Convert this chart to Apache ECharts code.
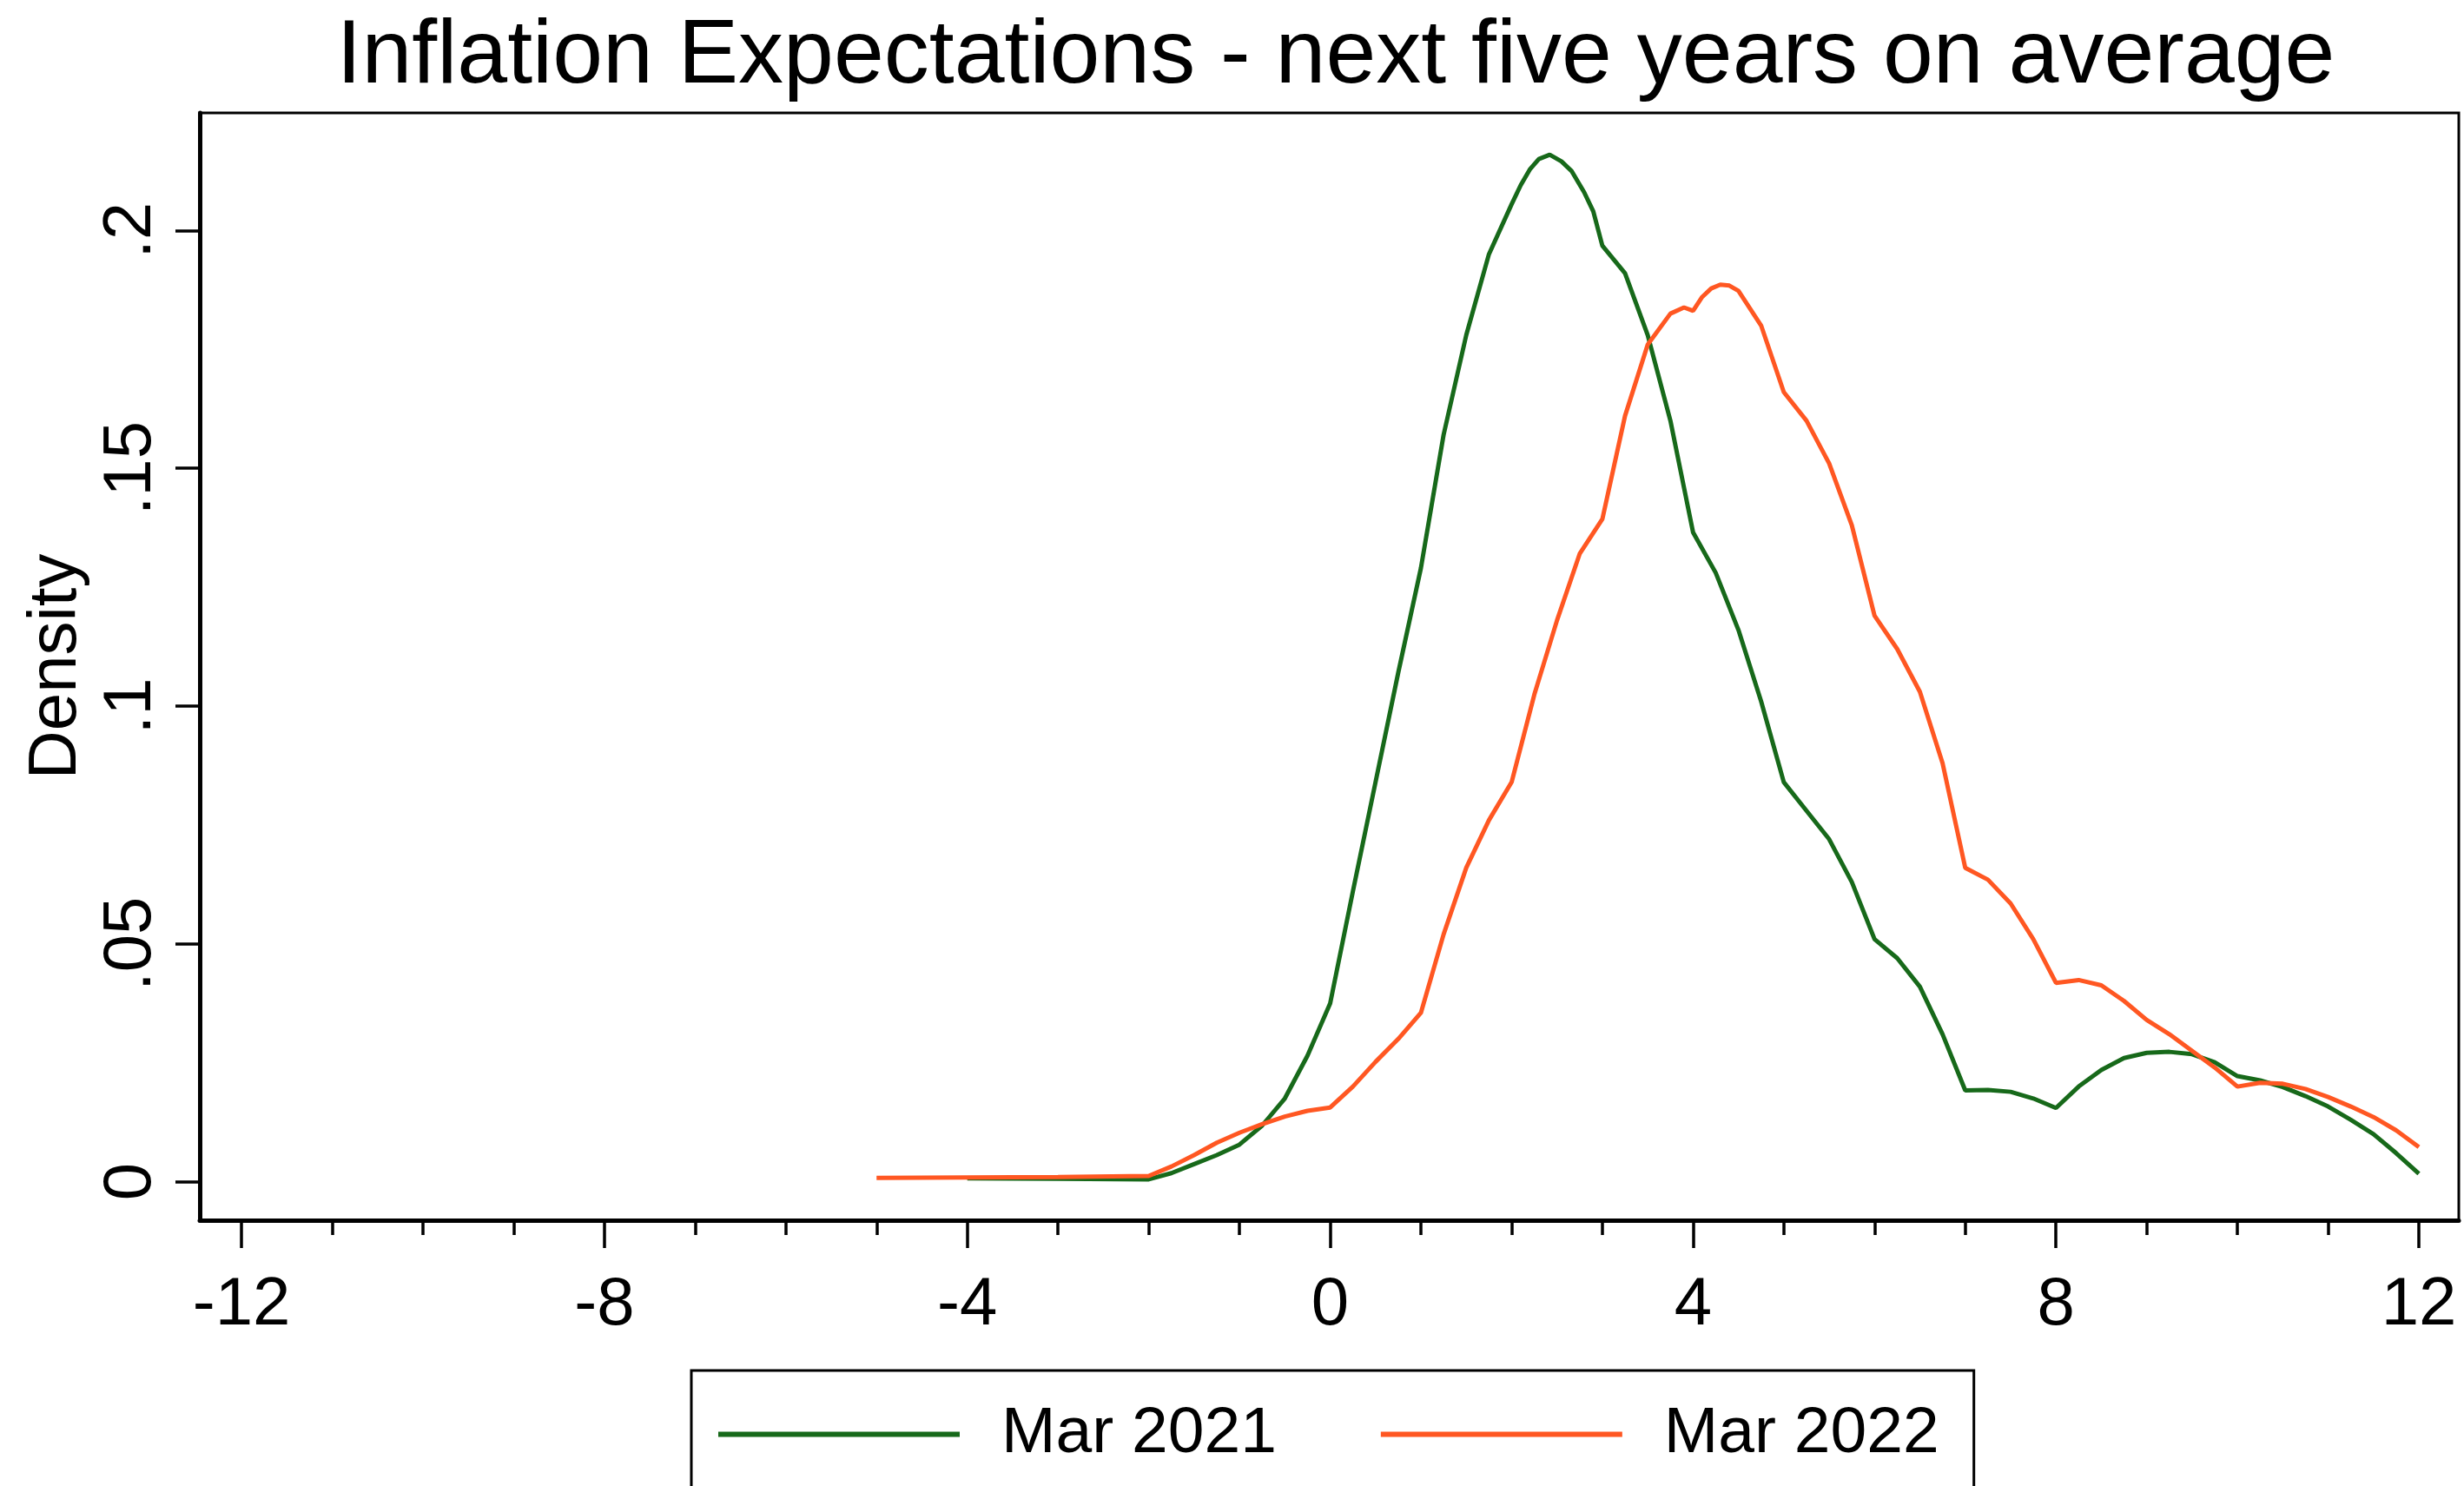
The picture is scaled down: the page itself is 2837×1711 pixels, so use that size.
<!DOCTYPE html>
<html>
<head>
<meta charset="utf-8">
<title>Inflation Expectations - next five years on average</title>
<script src="https://cdn.jsdelivr.net/npm/echarts@6/dist/echarts.min.js"></script>
<style>
  html, body { margin: 0; padding: 0; background: #ffffff; }
  #chart { width: 2837px; height: 1711px; }
</style>
</head>
<body>
<div id="chart"></div>
<script>
// Kernel density of expected average inflation over the next five years (%)
const mar2021X = [-4, -3, -2, -1.75, -1.5, -1.25, -1, -0.75, -0.5, -0.25, 0, 0.25, 0.5, 0.75, 1,
  1.25, 1.5, 1.75, 2, 2.1, 2.2, 2.3, 2.42, 2.55, 2.66, 2.8, 2.9, 3, 3.25, 3.5, 3.75, 4, 4.25, 4.5, 4.75, 5,
  5.25, 5.5, 5.75, 6, 6.25, 6.5, 6.75, 7, 7.25, 7.5, 7.75, 8, 8.25, 8.5, 8.75, 9,
  9.25, 9.5, 9.75, 10, 10.25, 10.5, 10.75, 11, 11.25, 11.5, 11.75, 12];
const mar2021Density = [0.0007, 0.0006, 0.0005, 0.0018, 0.0037, 0.0056, 0.0078, 0.0118, 0.0175, 0.0265, 0.0375, 0.061, 0.084, 0.107, 0.129,
  0.157, 0.178, 0.195, 0.2055, 0.2095, 0.2128, 0.2150, 0.2159, 0.2145, 0.2125, 0.2080, 0.2040, 0.1968, 0.191, 0.178, 0.160, 0.1365, 0.128, 0.116, 0.101, 0.084,
  0.078, 0.072, 0.063, 0.051, 0.047, 0.041, 0.031, 0.0192, 0.0193, 0.0189, 0.0175, 0.0155, 0.020, 0.0235, 0.026, 0.0271,
  0.0273, 0.0268, 0.0251, 0.0222, 0.0213, 0.0199, 0.018, 0.0158, 0.013, 0.0100, 0.006, 0.0017];

const mar2022X = [-5, -4, -3, -2, -1.75, -1.5, -1.25, -1, -0.75, -0.5, -0.25, 0, 0.25, 0.5, 0.75, 1,
  1.25, 1.5, 1.75, 2, 2.25, 2.5, 2.75, 3, 3.25, 3.5, 3.75, 3.9, 4, 4.1, 4.2, 4.3, 4.4, 4.5, 4.75, 5,
  5.25, 5.5, 5.75, 6, 6.25, 6.5, 6.75, 7, 7.25, 7.5, 7.75, 8, 8.25, 8.5, 8.75, 9,
  9.25, 9.5, 9.75, 10, 10.25, 10.5, 10.75, 11, 11.25, 11.5, 11.75, 12];
const mar2022Density = [0.0008, 0.0009, 0.0010, 0.0012, 0.0032, 0.0056, 0.0082, 0.0103, 0.0121, 0.0137, 0.0149, 0.0156, 0.020, 0.0252, 0.030, 0.0355,
  0.052, 0.066, 0.076, 0.084, 0.1024, 0.118, 0.132, 0.1393, 0.161, 0.176, 0.1825, 0.1838, 0.1831, 0.1860, 0.1878, 0.1886, 0.1884, 0.1873, 0.180, 0.166,
  0.160, 0.151, 0.138, 0.119, 0.112, 0.103, 0.088, 0.066, 0.0635, 0.0585, 0.051, 0.0418, 0.0424, 0.0413, 0.038, 0.034,
  0.031, 0.0275, 0.024, 0.020, 0.0208, 0.0206, 0.0195, 0.0178, 0.0158, 0.0136, 0.0108, 0.0073];

const seriesNames = ['Mar 2021', 'Mar 2022'];
const xMajorTicks = [-12, -8, -4, 0, 4, 8, 12];
const xMinorTicks = [-12, -11, -10, -9, -8, -7, -6, -5, -4, -3, -2, -1, 0, 1, 2, 3, 4, 5, 6, 7, 8, 9, 10, 11, 12];
const yTicks = [0, 0.05, 0.1, 0.15, 0.2];
const yTickLabels = ['0', '.05', '.1', '.15', '.2'];

const FONT = "'Liberation Sans', Arial, sans-serif";
const GREEN = '#17691a';
const ORANGE = '#ff5722';

const pairs = (xs, ys) => xs.map((x, i) => [x, ys[i]]);

const chart = echarts.init(document.getElementById('chart'), null, { renderer: 'canvas' });

chart.setOption({
  backgroundColor: '#ffffff',
  animation: false,
  title: {
    text: 'Inflation Expectations - next five years on average',
    left: 1533,
    textAlign: 'center',
    top: 9,
    textStyle: { fontFamily: FONT, fontSize: 104, fontWeight: 'normal', color: '#000000' }
  },
  grid: {
    left: 230, right: 6, top: 130, bottom: 306,
    show: true, borderColor: '#000000', borderWidth: 3, backgroundColor: '#ffffff'
  },
  xAxis: [
    {
      type: 'value', min: -12.46, max: 12.44, position: 'bottom',
      axisLine: { show: true, onZero: false, lineStyle: { color: '#000000', width: 5 } },
      axisTick: { show: true, length: 32, customValues: xMajorTicks, lineStyle: { color: '#000000', width: 3.5 } },
      axisLabel: {
        customValues: xMajorTicks, margin: 59, color: '#000000',
        fontFamily: FONT, fontSize: 78,
        formatter: v => String(v)
      },
      splitLine: { show: false }
    },
    {
      type: 'value', min: -12.46, max: 12.44, position: 'bottom',
      axisLine: { show: false, onZero: false },
      axisTick: { show: true, length: 17, customValues: xMinorTicks, lineStyle: { color: '#000000', width: 3.5 } },
      axisLabel: { show: false },
      splitLine: { show: false }
    }
  ],
  yAxis: {
    type: 'value', min: -0.0081, max: 0.2247,
    name: 'Density', nameLocation: 'middle', nameGap: 122,
    nameTextStyle: { fontFamily: FONT, fontSize: 78, color: '#000000' },
    axisLine: { show: true, onZero: false, lineStyle: { color: '#000000', width: 5 } },
    axisTick: { show: true, length: 28, customValues: yTicks, lineStyle: { color: '#000000', width: 3.5 } },
    axisLabel: {
      customValues: yTicks, rotate: 90, margin: 40, color: '#000000',
      fontFamily: FONT, fontSize: 78,
      formatter: v => yTickLabels[yTicks.findIndex(t => Math.abs(t - v) < 1e-9)]
    },
    splitLine: { show: false }
  },
  legend: {
    data: seriesNames,
    left: 796, top: 1578,
    orient: 'horizontal',
    icon: 'rect',
    itemWidth: 278, itemHeight: 6, itemGap: 120,
    padding: [36, 40, 80, 31],
    borderColor: '#000000', borderWidth: 3, backgroundColor: '#ffffff',
    textStyle: { fontFamily: FONT, fontSize: 75, color: '#000000', padding: [0, 0, 0, 43] }
  },
  series: [
    {
      name: seriesNames[0], type: 'line', xAxisIndex: 0,
      data: pairs(mar2021X, mar2021Density),
      symbol: 'none', smooth: false,
      lineStyle: { color: GREEN, width: 5 }, itemStyle: { color: GREEN }
    },
    {
      name: seriesNames[1], type: 'line', xAxisIndex: 0,
      data: pairs(mar2022X, mar2022Density),
      symbol: 'none', smooth: false,
      lineStyle: { color: ORANGE, width: 5 }, itemStyle: { color: ORANGE }
    }
  ]
});
</script>
</body>
</html>
